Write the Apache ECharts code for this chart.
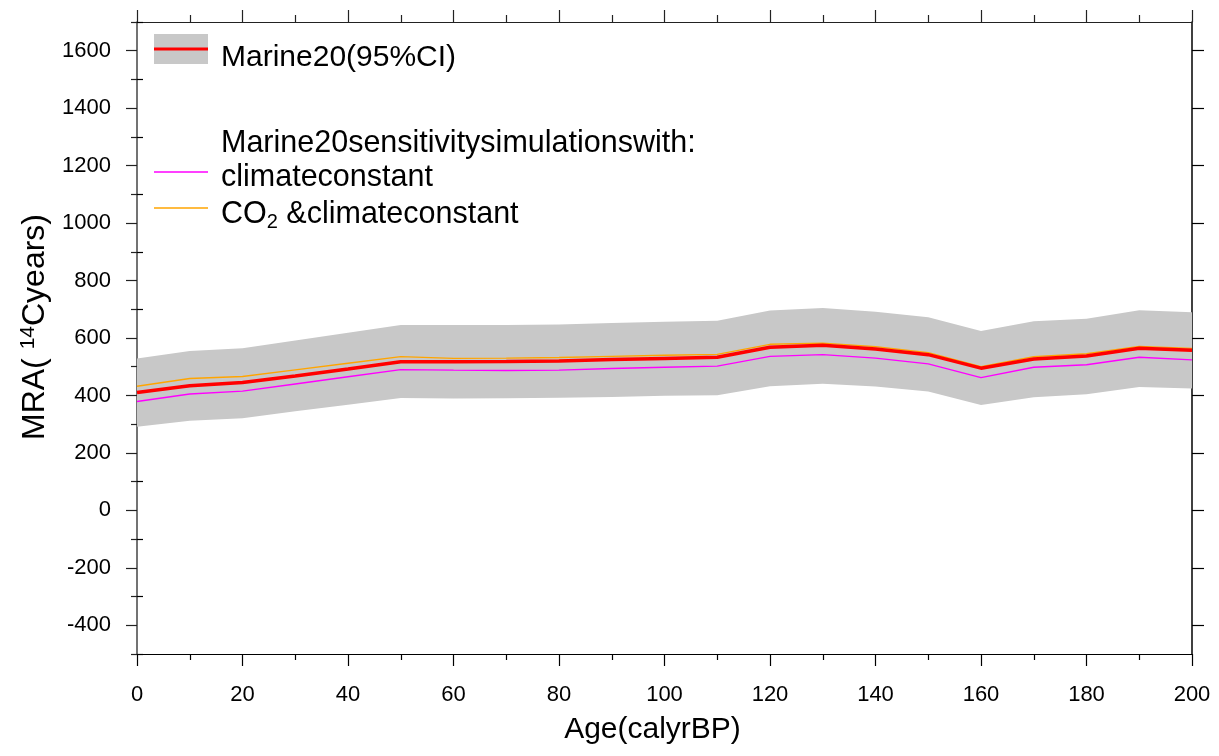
<!DOCTYPE html>
<html>
<head>
<meta charset="utf-8">
<script src="https://cdn.jsdelivr.net/npm/echarts@6/dist/echarts.min.js"></script>
<style>
html,body{margin:0;padding:0;background:#fff;}
#chart{width:1219px;height:756px;}
</style>
</head>
<body>
<div id="chart"></div>
<script>
// ---- Data ----
const ages = [0,10,20,30,40,50,60,70,80,90,100,110,120,130,140,150,160,170,180,190,200];
const ciUpper = [529,555,564,591,618,645,645,645,647,652,657,660,696,704,691,672,624,658,667,697,690];
const ciLower = [291,312,321,345,368,391,389,390,392,395,399,401,432,441,431,414,367,394,404,429,424];
const marine20 = [410,434,445,468,492,517,517,518,520,525,529,533,568,575,562,542,495,527,537,564,557];
const co2ClimateConst = [432,459,466,489,512,535,529,530,532,536,540,543,578,582,570,549,500,535,545,571,564];
const climateConst = [379,405,415,440,465,490,488,487,488,494,498,502,536,542,530,510,462,498,507,533,524];

const yMajorTicks = [-400,-200,0,200,400,600,800,1000,1200,1400,1600];
const yMinorTicks = [-500,-300,-100,100,300,500,700,900,1100,1300,1500,1700];

const FONT = "'Liberation Sans', Arial, sans-serif";
const pairs = (ys) => ages.map((a, i) => [a, ys[i]]);

const chart = echarts.init(document.getElementById('chart'), null, {renderer: 'canvas'});

const yBase = {type: 'value', min: -500, max: 1700, interval: 100, splitLine: {show: false}};
const plain = (v) => String(v);

const option = {
  animation: false,
  backgroundColor: '#ffffff',
  grid: {left: 137, right: 27, top: 22, bottom: 102, containLabel: false},
  xAxis: [
    {
      type: 'value', position: 'bottom', min: 0, max: 200, interval: 20,
      name: 'Age(calyrBP)', nameLocation: 'middle', nameGap: 61,
      nameTextStyle: {fontFamily: FONT, fontSize: 30, color: '#000', padding: [0, 24, 0, 0]},
      axisLine: {show: true, onZero: false, lineStyle: {color: '#000', width: 1.2}},
      axisTick: {show: true, inside: false, length: 12, lineStyle: {color: '#000', width: 1.2}},
      minorTick: {show: true, splitNumber: 2, length: 6, lineStyle: {color: '#000', width: 1.2}},
      axisLabel: {fontFamily: FONT, fontSize: 22, color: '#000', margin: 30, formatter: plain},
      splitLine: {show: false}, minorSplitLine: {show: false}
    },
    {
      type: 'value', position: 'top', min: 0, max: 200, interval: 20,
      axisLine: {show: true, onZero: false, lineStyle: {color: '#222', width: 1.2}},
      axisTick: {show: true, inside: false, length: 12, lineStyle: {color: '#222', width: 1.2}},
      minorTick: {show: true, splitNumber: 2, length: 7, lineStyle: {color: '#222', width: 1.2}},
      axisLabel: {show: false},
      splitLine: {show: false}, minorSplitLine: {show: false}
    }
  ],
  yAxis: [
    Object.assign({}, yBase, {
      position: 'left',
      name: 'MRA( {sup|14}Cyears)', nameLocation: 'middle', nameGap: 77,
      nameTextStyle: {fontFamily: FONT, fontSize: 32, color: '#000', padding: [0, 0, 0, 22],
        rich: {sup: {fontFamily: FONT, fontSize: 21, color: '#000', verticalAlign: 'top', padding: [0,0,14,0]}}},
      axisLine: {show: true, onZero: false, lineStyle: {color: '#444', width: 1.5}},
      axisTick: {show: true, inside: false, length: 11, customValues: yMajorTicks, lineStyle: {color: '#222', width: 1.2}},
      axisLabel: {fontFamily: FONT, fontSize: 22, color: '#000', margin: 26, customValues: yMajorTicks, formatter: plain}
    }),
    Object.assign({}, yBase, {
      position: 'left', offset: 0,
      axisLine: {show: false},
      axisTick: {show: true, inside: false, length: 6, customValues: yMinorTicks, lineStyle: {color: '#222', width: 1.2}},
      axisLabel: {show: false}
    }),
    Object.assign({}, yBase, {
      position: 'right', offset: 0,
      axisLine: {show: true, onZero: false, lineStyle: {color: '#000', width: 1.5}},
      axisTick: {show: true, inside: false, length: 12, customValues: yMajorTicks, lineStyle: {color: '#000', width: 1.2}},
      axisLabel: {show: false}
    }),
    Object.assign({}, yBase, {
      position: 'right', offset: 0,
      axisLine: {show: false},
      axisTick: {show: true, inside: false, length: 6, customValues: yMinorTicks, lineStyle: {color: '#000', width: 1.2}},
      axisLabel: {show: false}
    })
  ],
  series: [
    {
      name: 'Marine20(95%CI) band', type: 'custom', xAxisIndex: 0, yAxisIndex: 0,
      data: ages.map((a, i) => [a, ciLower[i], ciUpper[i]]),
      encode: {x: 0, y: [1, 2]},
      silent: true, z: 1,
      renderItem: function (params, api) {
        if (params.dataIndex !== 0) return null;
        const pts = [];
        for (let i = 0; i < ages.length; i++) pts.push(api.coord([ages[i], ciUpper[i]]));
        for (let i = ages.length - 1; i >= 0; i--) pts.push(api.coord([ages[i], ciLower[i]]));
        return {type: 'polygon', shape: {points: pts}, style: {fill: '#c8c8c8', stroke: null}};
      }
    },
    {
      name: 'climateconstant', type: 'line', data: pairs(climateConst),
      symbol: 'none', lineStyle: {color: '#ff00ff', width: 1.4}, z: 3
    },
    {
      name: 'CO2 &climateconstant', type: 'line', data: pairs(co2ClimateConst),
      symbol: 'none', lineStyle: {color: '#ffa500', width: 1.4}, z: 4
    },
    {
      name: 'Marine20', type: 'line', data: pairs(marine20),
      symbol: 'none', lineStyle: {color: '#ff0000', width: 3.5}, z: 5
    }
  ],
  graphic: [
    {type: 'rect', shape: {x: 154, y: 34, width: 54, height: 30}, style: {fill: '#c8c8c8'}},
    {type: 'line', shape: {x1: 154, y1: 49, x2: 208, y2: 49}, style: {stroke: '#ff0000', lineWidth: 3}},
    {type: 'text', x: 221, y: 58, style: {text: 'Marine20(95%CI)', font: '30px ' + FONT, fill: '#000', verticalAlign: 'middle'}},
    {type: 'text', x: 221, y: 144, style: {text: 'Marine20sensitivitysimulationswith:', font: '30.5px ' + FONT, fill: '#000', verticalAlign: 'middle'}},
    {type: 'line', shape: {x1: 154, y1: 172, x2: 208, y2: 172}, style: {stroke: '#ff00ff', lineWidth: 1.4}},
    {type: 'text', x: 221, y: 178, style: {text: 'climateconstant', font: '30.5px ' + FONT, fill: '#000', verticalAlign: 'middle'}},
    {type: 'line', shape: {x1: 154, y1: 208, x2: 208, y2: 208}, style: {stroke: '#ffa500', lineWidth: 1.4}},
    {type: 'text', x: 221, y: 215, style: {
      text: '{n|CO}{sub|2}{n| &climateconstant}', fill: '#000', verticalAlign: 'middle',
      rich: {
        n: {fontFamily: FONT, fontSize: 30.5, color: '#000', lineHeight: 35},
        sub: {fontFamily: FONT, fontSize: 20, color: '#000', lineHeight: 20, verticalAlign: 'bottom', padding: [12,0,0,0]}
      }
    }}
  ]
};

chart.setOption(option);
</script>
</body>
</html>
